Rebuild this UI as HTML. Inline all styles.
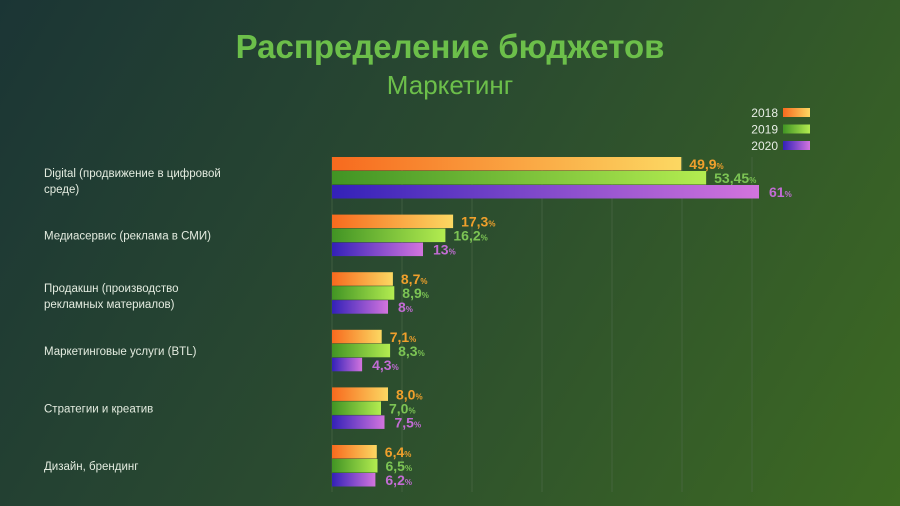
<!DOCTYPE html>
<html><head><meta charset="utf-8"><style>
body{margin:0;width:900px;height:506px;overflow:hidden;font-family:"Liberation Sans",sans-serif;}
#bg{position:absolute;left:0;top:0;width:900px;height:506px;background:linear-gradient(120deg,#1b3535 0%,#2a4a30 45%,#3d6a22 100%);}
</style></head><body>
<div id="bg"></div>
<svg id="chart" width="900" height="506" style="position:absolute;left:0;top:0">
<defs>
<linearGradient id="g0" x1="0" x2="1"><stop offset="0" stop-color="#f76a1e"/><stop offset="1" stop-color="#fcd862"/></linearGradient>
<linearGradient id="g1" x1="0" x2="1"><stop offset="0" stop-color="#419424"/><stop offset="1" stop-color="#b3ec50"/></linearGradient>
<linearGradient id="g2" x1="0" x2="1"><stop offset="0" stop-color="#3321b8"/><stop offset="1" stop-color="#d374de"/></linearGradient>
</defs>
<text x="450" y="58" text-anchor="middle" font-size="33" font-weight="bold" fill="#6cbf4a">Распределение бюджетов</text>
<text x="450" y="94" text-anchor="middle" font-size="26" fill="#6cbf4a">Маркетинг</text>
<g id="grid"></g><g id="bars"></g><g id="legend"></g>
</svg>
<script>
const categories=[["Digital (продвижение в цифровой","среде)"],["Медиасервис (реклама в СМИ)"],["Продакшн (производство","рекламных материалов)"],["Маркетинговые услуги (BTL)"],["Стратегии и креатив"],["Дизайн, брендинг"]];
const years=["2018","2019","2020"];
const s2018=[49.9,17.3,8.7,7.1,8.0,6.4];
const s2019=[53.45,16.2,8.9,8.3,7.0,6.5];
const s2020=[61,13,8,4.3,7.5,6.2];
const labels2018=["49,9","17,3","8,7","7,1","8,0","6,4"];
const labels2019=["53,45","16,2","8,9","8,3","7,0","6,5"];
const labels2020=["61","13","8","4,3","7,5","6,2"];
const gridTicks=[0,10,20,30,40,50,60];
const NS="http://www.w3.org/2000/svg";
const x0=332,pxPer=7.0;
function xs(v){return x0+v*pxPer;}
function gy(i){return 157+i*57.6;}
const barH=14;
const series=[s2018,s2019,s2020],lbls=[labels2018,labels2019,labels2020];
const txtCol=["#f0a02c","#7cc454","#c26cd4"];
function mk(tag,attrs,parent){const e=document.createElementNS(NS,tag);for(const k in attrs)e.setAttribute(k,attrs[k]);parent.appendChild(e);return e;}
const grid=document.getElementById('grid'),bars=document.getElementById('bars'),leg=document.getElementById('legend');
gridTicks.forEach(t=>{const l=mk('line',{x1:xs(t),x2:xs(t),y1:157,y2:492,stroke:'#4f6b4a','stroke-width':1,opacity:0.6},grid);

});
categories.forEach((c,i)=>{
 const t=mk('text',{x:44,y:gy(i)+(c.length>1?20:25),'font-size':11.5,fill:'#e4ece0'},bars);
 
 
 c.forEach((ln,j)=>{const ts=mk('tspan',{x:44,dy:j?16:0},t);ts.textContent=ln;});
 series.forEach((s,k)=>{
  const y=gy(i)+k*barH;
  const r=mk('rect',{x:x0,y:y,width:xs(s[i])-x0,height:barH-0.5,fill:'url(#g'+k+')'},bars);
  
  
  const v=mk('text',{x:xs(s[i])+(k==2?10:8),y:y+12,'font-size':14,'font-weight':'bold',fill:txtCol[k],'font-family':'"Liberation Sans Narrow","Liberation Sans",sans-serif'},bars);
  
  
  v.textContent=lbls[k][i];
  const p=mk('tspan',{'font-size':8},v);p.textContent='%';
 });
});
years.forEach((yr,k)=>{
 const y=108+k*16.5;
 const t=mk('text',{x:778,y:y+9,'text-anchor':'end','font-size':12,fill:'#e8eee6'},leg);
 
 
 t.textContent=yr;
 const r=mk('rect',{x:783,y:y,width:27,height:9,fill:'url(#g'+k+')'},leg);
 
 
});
</script>
</body></html>
